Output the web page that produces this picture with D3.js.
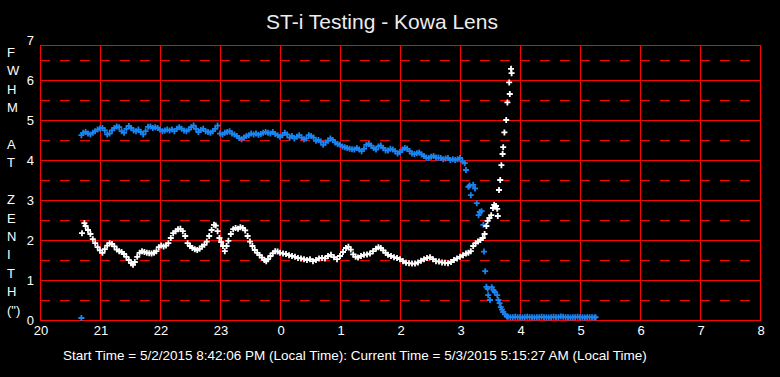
<!DOCTYPE html>
<html>
<head>
<meta charset="utf-8">
<script src="https://cdn.jsdelivr.net/npm/d3@7"></script>
<style>
  html, body { margin: 0; padding: 0; background: #000; }
  svg { display: block; font-family: "Liberation Sans", Arial, sans-serif; }
</style>
</head>
<body>
<div id="chart"></div>
<script>
// hours run on past midnight: 24 = 0h, 29.25 = 5:15
const xTicks = [20, 21, 22, 23, 24, 25, 26, 27, 28, 29, 30, 31, 32];
const xTickLabels = ["20", "21", "22", "23", "0", "1", "2", "3", "4", "5", "6", "7", "8"];
const yTicks = [0, 1, 2, 3, 4, 5, 6, 7];
const yLabelLines = ["F", "W", "H", "M", "", "A", "T", "", "Z", "E", "N", "I", "T", "H", "(\")"];
const titleText = "ST-i Testing - Kowa Lens";
const footerText = "Start Time = 5/2/2015 8:42:06 PM (Local Time): Current Time = 5/3/2015 5:15:27 AM (Local Time)";

// blue series [hour, FWHM]
const blueSeries = [
  [20.69, 0.05], [20.69, 4.62], [20.72, 4.68], [20.76, 4.70], [20.80, 4.66], [20.84, 4.64],
  [20.88, 4.68], [20.92, 4.72], [20.96, 4.76], [21.00, 4.79], [21.04, 4.80], [21.08, 4.74],
  [21.12, 4.64], [21.16, 4.66], [21.20, 4.74], [21.24, 4.80], [21.28, 4.84], [21.32, 4.82],
  [21.36, 4.72], [21.40, 4.68], [21.44, 4.78], [21.48, 4.85], [21.52, 4.80], [21.56, 4.74],
  [21.60, 4.72], [21.64, 4.76], [21.68, 4.70], [21.72, 4.64], [21.76, 4.72], [21.80, 4.83],
  [21.84, 4.84], [21.88, 4.80], [21.92, 4.82], [21.96, 4.80], [22.00, 4.76], [22.04, 4.72],
  [22.08, 4.74], [22.12, 4.76], [22.16, 4.74], [22.20, 4.76], [22.24, 4.72], [22.28, 4.78],
  [22.32, 4.82], [22.36, 4.78], [22.40, 4.74], [22.44, 4.72], [22.48, 4.76], [22.52, 4.82],
  [22.56, 4.86], [22.60, 4.78], [22.64, 4.70], [22.68, 4.75], [22.72, 4.78], [22.76, 4.72],
  [22.80, 4.70], [22.84, 4.68], [22.88, 4.72], [22.92, 4.78], [22.96, 4.86], [23.00, 4.66],
  [23.04, 4.64], [23.08, 4.68], [23.12, 4.70], [23.16, 4.72], [23.20, 4.66], [23.24, 4.64],
  [23.28, 4.60], [23.32, 4.55], [23.36, 4.52], [23.40, 4.56], [23.44, 4.60], [23.48, 4.62],
  [23.52, 4.66], [23.56, 4.64], [23.60, 4.66], [23.64, 4.63], [23.68, 4.65], [23.72, 4.68],
  [23.76, 4.70], [23.80, 4.68], [23.84, 4.66], [23.88, 4.70], [23.92, 4.65], [23.96, 4.62],
  [24.00, 4.58], [24.04, 4.62], [24.08, 4.68], [24.12, 4.64], [24.16, 4.56], [24.20, 4.60],
  [24.24, 4.54], [24.28, 4.58], [24.32, 4.62], [24.36, 4.56], [24.40, 4.52], [24.44, 4.54],
  [24.48, 4.62], [24.52, 4.60], [24.56, 4.56], [24.60, 4.48], [24.64, 4.50], [24.68, 4.46],
  [24.72, 4.38], [24.76, 4.44], [24.80, 4.48], [24.84, 4.54], [24.88, 4.50], [24.92, 4.44],
  [24.96, 4.40], [25.00, 4.38], [25.04, 4.34], [25.08, 4.32], [25.12, 4.30], [25.16, 4.28],
  [25.20, 4.27], [25.24, 4.26], [25.28, 4.30], [25.32, 4.26], [25.36, 4.22], [25.40, 4.28],
  [25.44, 4.38], [25.48, 4.40], [25.52, 4.36], [25.56, 4.30], [25.60, 4.26], [25.64, 4.34],
  [25.68, 4.36], [25.72, 4.30], [25.76, 4.24], [25.80, 4.24], [25.84, 4.28], [25.88, 4.26],
  [25.92, 4.22], [25.96, 4.16], [26.00, 4.20], [26.04, 4.26], [26.08, 4.30], [26.12, 4.28],
  [26.16, 4.22], [26.20, 4.16], [26.24, 4.15], [26.28, 4.17], [26.32, 4.19], [26.36, 4.14],
  [26.40, 4.10], [26.44, 4.06], [26.48, 4.05], [26.52, 4.08], [26.56, 4.10], [26.60, 4.06],
  [26.64, 4.06], [26.68, 4.05], [26.72, 4.02], [26.76, 4.04], [26.80, 4.05], [26.84, 4.00],
  [26.88, 4.02], [26.92, 4.00], [26.96, 4.02], [27.00, 4.05], [27.04, 3.96], [27.08, 3.92],
  [27.10, 3.75], [27.14, 3.33], [27.16, 3.36], [27.18, 3.12], [27.22, 3.38], [27.25, 3.29],
  [27.28, 2.92], [27.31, 2.62], [27.33, 2.70], [27.36, 2.72], [27.39, 2.38], [27.40, 1.71],
  [27.42, 1.22], [27.44, 0.83], [27.46, 0.78], [27.47, 0.62], [27.50, 0.50], [27.53, 0.82],
  [27.56, 0.74], [27.58, 0.70], [27.62, 0.62], [27.64, 0.50], [27.66, 0.42], [27.68, 0.32],
  [27.70, 0.26], [27.72, 0.20], [27.75, 0.14], [27.78, 0.09], [27.80, 0.08], [27.84, 0.07],
  [27.88, 0.07], [27.92, 0.08], [27.96, 0.07], [28.00, 0.07], [28.04, 0.06], [28.08, 0.07],
  [28.12, 0.08], [28.16, 0.07], [28.20, 0.07], [28.24, 0.06], [28.28, 0.07], [28.32, 0.07],
  [28.36, 0.08], [28.40, 0.07], [28.44, 0.07], [28.48, 0.06], [28.52, 0.07], [28.56, 0.08],
  [28.60, 0.07], [28.64, 0.07], [28.68, 0.09], [28.72, 0.08], [28.76, 0.07], [28.80, 0.07],
  [28.84, 0.06], [28.88, 0.07], [28.92, 0.07], [28.96, 0.08], [29.00, 0.07], [29.04, 0.07],
  [29.08, 0.06], [29.12, 0.07], [29.16, 0.07], [29.20, 0.07], [29.24, 0.06], [29.26, 0.07]
];

// white series [hour, FWHM]
const whiteSeries = [
  [20.70, 2.17], [20.74, 2.42], [20.76, 2.35], [20.80, 2.25], [20.84, 2.15], [20.88, 2.02],
  [20.92, 1.92], [20.96, 1.82], [21.00, 1.74], [21.04, 1.68], [21.08, 1.77], [21.12, 1.86],
  [21.16, 1.92], [21.20, 1.90], [21.24, 1.84], [21.28, 1.76], [21.32, 1.72], [21.36, 1.70],
  [21.40, 1.65], [21.44, 1.58], [21.48, 1.50], [21.52, 1.42], [21.55, 1.38], [21.58, 1.45],
  [21.62, 1.58], [21.66, 1.68], [21.70, 1.72], [21.74, 1.70], [21.78, 1.68], [21.82, 1.67],
  [21.86, 1.66], [21.90, 1.68], [21.94, 1.72], [21.98, 1.82], [22.02, 1.86], [22.06, 1.84],
  [22.10, 1.86], [22.14, 1.92], [22.18, 2.05], [22.22, 2.17], [22.26, 2.22], [22.30, 2.27],
  [22.34, 2.28], [22.38, 2.22], [22.42, 2.10], [22.46, 1.92], [22.50, 1.85], [22.54, 1.80],
  [22.58, 1.77], [22.62, 1.75], [22.66, 1.78], [22.70, 1.84], [22.74, 1.88], [22.78, 1.96],
  [22.82, 2.10], [22.86, 2.25], [22.90, 2.38], [22.93, 2.36], [22.96, 2.22], [22.99, 2.05],
  [23.02, 1.95], [23.05, 1.85], [23.08, 1.72], [23.11, 1.85], [23.14, 1.98], [23.18, 2.15],
  [23.22, 2.27], [23.26, 2.30], [23.30, 2.28], [23.34, 2.32], [23.38, 2.30], [23.42, 2.24],
  [23.46, 2.10], [23.50, 1.96], [23.54, 1.85], [23.58, 1.75], [23.62, 1.68], [23.66, 1.62],
  [23.70, 1.56], [23.74, 1.50], [23.77, 1.47], [23.80, 1.52], [23.84, 1.60], [23.88, 1.67],
  [23.92, 1.72], [23.96, 1.71], [24.00, 1.68], [24.05, 1.66], [24.10, 1.65], [24.15, 1.62],
  [24.20, 1.60], [24.25, 1.58], [24.30, 1.55], [24.35, 1.54], [24.40, 1.52], [24.45, 1.50],
  [24.50, 1.52], [24.55, 1.47], [24.60, 1.50], [24.65, 1.54], [24.70, 1.55], [24.75, 1.54],
  [24.80, 1.60], [24.85, 1.63], [24.90, 1.57], [24.95, 1.52], [25.00, 1.60], [25.05, 1.70],
  [25.10, 1.80], [25.14, 1.83], [25.18, 1.76], [25.22, 1.64], [25.26, 1.58], [25.30, 1.56],
  [25.35, 1.60], [25.40, 1.63], [25.45, 1.64], [25.50, 1.66], [25.55, 1.72], [25.60, 1.78],
  [25.64, 1.82], [25.68, 1.80], [25.72, 1.74], [25.76, 1.68], [25.80, 1.63], [25.85, 1.60],
  [25.90, 1.57], [25.95, 1.55], [26.00, 1.52], [26.05, 1.47], [26.10, 1.43], [26.15, 1.42],
  [26.20, 1.41], [26.25, 1.41], [26.30, 1.44], [26.35, 1.48], [26.40, 1.52], [26.45, 1.55],
  [26.50, 1.57], [26.55, 1.52], [26.60, 1.47], [26.65, 1.46], [26.70, 1.44], [26.75, 1.43],
  [26.80, 1.42], [26.85, 1.45], [26.90, 1.50], [26.95, 1.54], [27.00, 1.58], [27.05, 1.62],
  [27.10, 1.66], [27.14, 1.68], [27.18, 1.72], [27.22, 1.85], [27.26, 1.92], [27.30, 1.96],
  [27.34, 2.00], [27.38, 2.05], [27.41, 2.15], [27.44, 2.35], [27.46, 2.48], [27.49, 2.55],
  [27.52, 2.62], [27.55, 2.80], [27.57, 2.88], [27.60, 2.85], [27.62, 2.78], [27.63, 2.60],
  [27.65, 3.25], [27.67, 3.50], [27.69, 3.87], [27.71, 4.15], [27.72, 4.32], [27.74, 4.69],
  [27.77, 5.00], [27.79, 5.44], [27.83, 5.65], [27.82, 5.94], [27.86, 6.17], [27.85, 6.28]
];

const width = 780, height = 377;
const plot = { left: 40, right: 760, top: 45, bottom: 320 };

const svg = d3.select("#chart").append("svg")
  .attr("width", width)
  .attr("height", height);

svg.append("rect").attr("width", width).attr("height", height).attr("fill", "#000");

const x = d3.scaleLinear().domain([20, 32]).range([plot.left, plot.right]);
const y = d3.scaleLinear().domain([0, 7]).range([plot.bottom, plot.bottom - 280]);

const grid = svg.append("g").attr("shape-rendering", "crispEdges");

// dashed half-unit lines
grid.selectAll(".half")
  .data(d3.range(0.5, 7, 1))
  .join("line")
  .attr("class", "half")
  .attr("x1", plot.left).attr("x2", plot.right)
  .attr("y1", (d) => Math.round(y(d)) + 0.5)
  .attr("y2", (d) => Math.round(y(d)) + 0.5)
  .attr("stroke", "#ff0000")
  .attr("stroke-width", 1)
  .attr("stroke-dasharray", "10,10");

grid.selectAll(".hline")
  .data(yTicks.filter((d) => d > 0 && d < 7))
  .join("line")
  .attr("class", "hline")
  .attr("x1", plot.left).attr("x2", plot.right)
  .attr("y1", (d) => Math.round(y(d)) + 0.5)
  .attr("y2", (d) => Math.round(y(d)) + 0.5)
  .attr("stroke", "#ff0000")
  .attr("stroke-width", 1);

grid.selectAll(".vline")
  .data(xTicks.slice(1, -1))
  .join("line")
  .attr("class", "vline")
  .attr("x1", (d) => Math.round(x(d)) + 0.5)
  .attr("x2", (d) => Math.round(x(d)) + 0.5)
  .attr("y1", plot.top).attr("y2", plot.bottom)
  .attr("stroke", "#ff0000")
  .attr("stroke-width", 1);

grid.append("rect")
  .attr("x", plot.left + 0.5)
  .attr("y", plot.top + 0.5)
  .attr("width", plot.right - plot.left)
  .attr("height", plot.bottom - plot.top)
  .attr("fill", "none")
  .attr("stroke", "#ff0000")
  .attr("stroke-width", 1.3);

// tick labels
svg.append("g").selectAll("text")
  .data(yTicks)
  .join("text")
  .attr("x", 34)
  .attr("y", (d) => y(d))
  .attr("dy", "0.35em")
  .attr("text-anchor", "end")
  .attr("fill", "#fff")
  .attr("font-size", 13)
  .text((d) => d);

svg.append("g").selectAll("text")
  .data(xTicks)
  .join("text")
  .attr("x", (d) => x(d) + 1)
  .attr("y", 335)
  .attr("text-anchor", "middle")
  .attr("fill", "#fff")
  .attr("font-size", 13)
  .text((d, i) => xTickLabels[i]);

// stacked y label
svg.append("g").selectAll("text")
  .data(yLabelLines)
  .join("text")
  .attr("x", 7)
  .attr("y", (d, i) => 57 + i * 18.4)
  .attr("fill", "#fff")
  .attr("font-size", 13)
  .text((d) => d);

svg.append("text")
  .attr("x", 382)
  .attr("y", 29)
  .attr("text-anchor", "middle")
  .attr("fill", "#ececec")
  .attr("font-size", 21)
  .text(titleText);

svg.append("text")
  .attr("x", 63)
  .attr("y", 360)
  .attr("fill", "#fff")
  .attr("font-size", 13.5)
  .text(footerText);

// plus markers
const plus = "M-3,0H3M0,-3V3";

function drawSeries(data, color) {
  svg.append("g").selectAll("path")
    .data(data)
    .join("path")
    .attr("d", plus)
    .attr("transform", (d) => `translate(${x(d[0])},${y(d[1])})`)
    .attr("stroke", color)
    .attr("stroke-width", 1.8)
    .attr("fill", "none");
}

drawSeries(blueSeries, "#1a84f0");
drawSeries(whiteSeries, "#ffffff");
</script>
</body>
</html>
